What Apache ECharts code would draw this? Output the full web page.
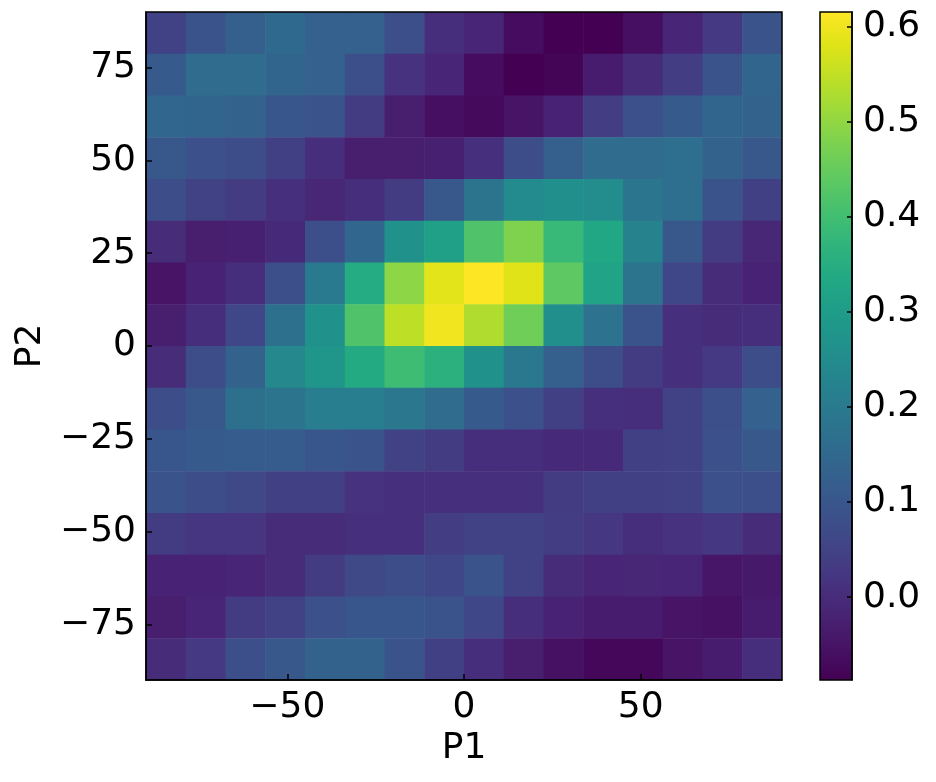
<!DOCTYPE html>
<html>
<head>
<meta charset="utf-8">
<script src="https://cdn.jsdelivr.net/npm/echarts@6/dist/echarts.min.js"></script>
<style>
html,body{margin:0;padding:0;background:#fff;}
#chart{width:936px;height:782px;}
</style>
</head>
<body>
<div id="chart"></div>
<script>
// Bin centres of the histogram grid
const p1Centers = [-84.375, -73.125, -61.875, -50.625, -39.375, -28.125, -16.875, -5.625,
                   5.625, 16.875, 28.125, 39.375, 50.625, 61.875, 73.125, 84.375];
const p2Centers = [84.375, 73.125, 61.875, 50.625, 39.375, 28.125, 16.875, 5.625,
                   -5.625, -16.875, -28.125, -39.375, -50.625, -61.875, -73.125, -84.375];
// Cell values, one row per p2Centers entry (top to bottom), columns follow p1Centers
const zRows = [
  [0.050, 0.090, 0.125, 0.150, 0.130, 0.130, 0.080, 0.005, -0.015, -0.065, -0.087, -0.087, -0.060, -0.015, 0.030, 0.090],
  [0.110, 0.160, 0.160, 0.140, 0.130, 0.080, 0.015, -0.015, -0.065, -0.087, -0.080, -0.035, 0.000, 0.040, 0.090, 0.140],
  [0.145, 0.140, 0.135, 0.100, 0.090, 0.035, -0.030, -0.060, -0.070, -0.050, -0.020, 0.040, 0.085, 0.110, 0.140, 0.135],
  [0.105, 0.085, 0.075, 0.045, 0.005, -0.030, -0.030, -0.025, 0.010, 0.075, 0.125, 0.160, 0.160, 0.165, 0.135, 0.105],
  [0.075, 0.050, 0.035, 0.010, -0.010, 0.005, 0.035, 0.105, 0.180, 0.245, 0.260, 0.250, 0.185, 0.165, 0.090, 0.045],
  [0.000, -0.030, -0.025, -0.005, 0.080, 0.145, 0.265, 0.315, 0.420, 0.480, 0.385, 0.330, 0.225, 0.105, 0.035, -0.010],
  [-0.050, -0.020, 0.005, 0.080, 0.200, 0.345, 0.495, 0.585, 0.615, 0.580, 0.440, 0.320, 0.180, 0.060, 0.000, -0.020],
  [-0.030, 0.005, 0.060, 0.170, 0.265, 0.420, 0.545, 0.600, 0.530, 0.460, 0.260, 0.175, 0.090, 0.010, 0.000, 0.005],
  [0.000, 0.075, 0.135, 0.240, 0.280, 0.340, 0.395, 0.360, 0.265, 0.195, 0.126, 0.075, 0.035, 0.010, 0.030, 0.075],
  [0.075, 0.105, 0.170, 0.180, 0.210, 0.210, 0.190, 0.160, 0.110, 0.085, 0.045, 0.010, 0.005, 0.050, 0.080, 0.130],
  [0.100, 0.110, 0.115, 0.115, 0.100, 0.090, 0.050, 0.035, 0.005, 0.005, -0.005, -0.005, 0.045, 0.050, 0.085, 0.105],
  [0.090, 0.075, 0.065, 0.045, 0.045, 0.015, 0.010, 0.010, 0.010, 0.010, 0.035, 0.045, 0.045, 0.050, 0.085, 0.080],
  [0.035, 0.020, 0.020, 0.000, 0.000, 0.010, 0.010, 0.040, 0.050, 0.050, 0.040, 0.025, 0.005, 0.015, 0.025, 0.000],
  [-0.020, -0.020, -0.015, 0.000, 0.035, 0.065, 0.075, 0.060, 0.090, 0.050, 0.000, -0.015, -0.010, -0.015, -0.045, -0.040],
  [-0.030, -0.015, 0.035, 0.050, 0.085, 0.100, 0.100, 0.090, 0.060, 0.005, -0.020, -0.035, -0.035, -0.050, -0.055, -0.035],
  [0.000, 0.030, 0.080, 0.105, 0.135, 0.135, 0.090, 0.045, 0.005, -0.030, -0.055, -0.075, -0.075, -0.050, -0.035, 0.005]
];
const p1Ticks = [-50, 0, 50];
const p2Ticks = [-75, -50, -25, 0, 25, 50, 75];
const cbTicks = [0.0, 0.1, 0.2, 0.3, 0.4, 0.5, 0.6];
const colorMin = -0.087;
const colorMax = 0.615;
const axisMin = -90, axisMax = 90;

const viridis = ['#440154','#471365','#482475','#463480','#414487','#3b528b','#355f8d',
  '#2f6c8e','#2a788e','#25848e','#21918c','#1e9c89','#22a884','#2fb47c','#44bf70',
  '#5ec962','#7ad151','#9bd93c','#bddf26','#dfe318','#fde725'];

const cells = [];
zRows.forEach((row, r) => row.forEach((v, c) => cells.push([p1Centers[c], p2Centers[r], v])));
const halfBin = (p1Centers[1] - p1Centers[0]) / 2;

const font = 'DejaVu Sans';
const minus = v => String(v).replace('-', '\u2212');

const chart = echarts.init(document.getElementById('chart'), null, {renderer: 'canvas'});
chart.setOption({
  animation: false,
  backgroundColor: '#fff',
  grid: [
    {left: 146, top: 12, width: 636, height: 668, show: true, borderColor: '#000', borderWidth: 1.5, z: 10, backgroundColor: 'transparent'},
    {left: 820, top: 12, width: 32, height: 668, show: true, borderColor: '#000', borderWidth: 1.5, z: 10, backgroundColor: 'transparent'}
  ],
  visualMap: {
    type: 'continuous', show: false, min: colorMin, max: colorMax, dimension: 2, seriesIndex: 0,
    inRange: {color: viridis}
  },
  xAxis: [
    {
      type: 'value', gridIndex: 0, min: axisMin, max: axisMax, z: 10,
      axisLine: {show: true, onZero: false, lineStyle: {color: '#000', width: 1.5}},
      axisTick: {show: true, inside: true, length: 6, lineStyle: {color: '#000', width: 1.5}, customValues: p1Ticks},
      axisLabel: {show: true, customValues: p1Ticks, formatter: minus, color: '#000', fontSize: 36, fontFamily: font, margin: 10},
      splitLine: {show: false},
      name: 'P1', nameLocation: 'middle', nameGap: 48,
      nameTextStyle: {color: '#000', fontSize: 36, fontFamily: font}
    },
    {type: 'value', gridIndex: 1, min: 0, max: 1, show: false}
  ],
  yAxis: [
    {
      type: 'value', gridIndex: 0, min: axisMin, max: axisMax, z: 10,
      axisLine: {show: true, onZero: false, lineStyle: {color: '#000', width: 1.5}},
      axisTick: {show: true, inside: true, length: 6, lineStyle: {color: '#000', width: 1.5}, customValues: p2Ticks},
      axisLabel: {show: true, customValues: p2Ticks, formatter: minus, color: '#000', fontSize: 36, fontFamily: font, margin: 10},
      splitLine: {show: false},
      name: 'P2', nameLocation: 'middle', nameGap: 95, nameRotate: 90,
      nameTextStyle: {color: '#000', fontSize: 36, fontFamily: font}
    },
    {
      type: 'value', gridIndex: 1, min: colorMin, max: colorMax, position: 'right', z: 10,
      axisLine: {show: true, onZero: false, lineStyle: {color: '#000', width: 1.5}},
      axisTick: {show: true, inside: true, length: 5, lineStyle: {color: '#000', width: 1.5}, customValues: cbTicks},
      axisLabel: {show: true, customValues: cbTicks, formatter: v => v.toFixed(1), color: '#000', fontSize: 36, fontFamily: font, margin: 11},
      splitLine: {show: false}
    }
  ],
  series: [
    {
      type: 'custom', xAxisIndex: 0, yAxisIndex: 0, clip: true,
      data: cells,
      encode: {x: 0, y: 1},
      renderItem: function (params, api) {
        const x = api.value(0), y = api.value(1);
        const a = api.coord([x - halfBin, y + halfBin]);
        const b = api.coord([x + halfBin, y - halfBin]);
        return {
          type: 'rect',
          shape: {x: a[0], y: a[1], width: b[0] - a[0] + 0.6, height: b[1] - a[1] + 0.6},
          style: {fill: api.visual('color')}
        };
      }
    },
    {
      type: 'custom', xAxisIndex: 1, yAxisIndex: 1, clip: true,
      data: [[0, colorMin, 1, colorMax]],
      renderItem: function (params, api) {
        const a = api.coord([api.value(0), api.value(3)]);
        const b = api.coord([api.value(2), api.value(1)]);
        const stops = viridis.map((c, i) => ({offset: i / (viridis.length - 1), color: c}));
        return {
          type: 'rect',
          shape: {x: a[0], y: a[1], width: b[0] - a[0], height: b[1] - a[1]},
          style: {fill: new echarts.graphic.LinearGradient(0, 1, 0, 0, stops)}
        };
      }
    }
  ]
});
</script>
</body>
</html>
